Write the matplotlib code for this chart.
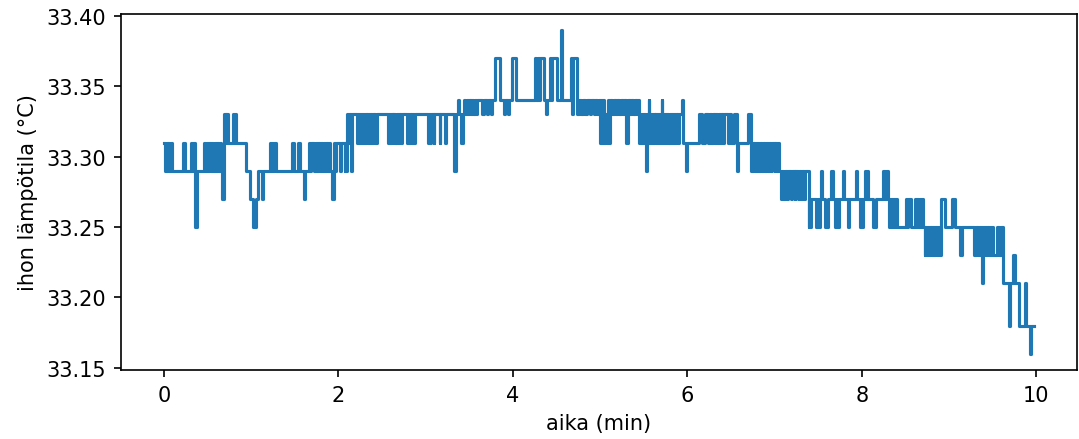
import matplotlib
matplotlib.use("Agg")
import matplotlib.pyplot as plt
import numpy as np

# Change points (time in minutes, skin temperature in °C)
aika_a = [0.00, 0.015, 0.03, 0.06, 0.075, 0.09,
          0.22, 0.235, 0.31, 0.325, 0.335, 0.35, 0.36, 0.375,
          0.46, 0.475, 0.49, 0.505, 0.52, 0.535, 0.55, 0.565, 0.58, 0.595, 0.61, 0.625, 0.64, 0.655,
          0.67, 0.685, 0.69, 0.705, 0.715, 0.73, 0.79, 0.80, 0.81, 0.825,
          0.94, 0.99, 1.02, 1.05, 1.08, 1.12, 1.14,
          1.21, 1.225, 1.24, 1.255, 1.265, 1.28, 1.47, 1.485, 1.54, 1.555, 1.60, 1.615,
          1.66, 1.675, 1.69, 1.72,
          1.74, 1.755, 1.77, 1.785, 1.80, 1.815, 1.83, 1.845, 1.86, 1.875, 1.89, 1.905,
          1.93, 1.945, 1.96, 1.97, 2.02, 2.03, 2.07, 2.08, 2.09]
lampo_a = [33.31, 33.29, 33.31, 33.29, 33.31, 33.29,
           33.31, 33.29, 33.31, 33.29, 33.31, 33.29, 33.25, 33.29,
           33.31, 33.29, 33.31, 33.29, 33.31, 33.29, 33.31, 33.29, 33.31, 33.29, 33.31, 33.29, 33.31, 33.29,
           33.27, 33.31, 33.33, 33.31, 33.33, 33.31, 33.33, 33.31, 33.33, 33.31,
           33.29, 33.27, 33.25, 33.27, 33.29, 33.27, 33.29,
           33.31, 33.29, 33.31, 33.29, 33.31, 33.29, 33.31, 33.29, 33.31, 33.29, 33.27, 33.29,
           33.31, 33.29, 33.31, 33.29,
           33.31, 33.29, 33.31, 33.29, 33.31, 33.29, 33.31, 33.29, 33.31, 33.29, 33.31, 33.29,
           33.27, 33.31, 33.29, 33.31, 33.29, 33.31, 33.29, 33.31, 33.29]

aika_b = [2.10, 2.115, 2.125, 2.14, 2.155,
          2.21, 2.22, 2.235, 2.245, 2.26, 2.27, 2.285, 2.295, 2.305, 2.315,
          2.34, 2.35, 2.365, 2.375, 2.39, 2.40, 2.415, 2.425, 2.435, 2.445,
          2.57, 2.58, 2.595, 2.605, 2.62, 2.63, 2.645, 2.655, 2.665, 2.675,
          2.685, 2.695, 2.715, 2.725,
          2.785, 2.795, 2.81, 2.82, 2.84, 2.85, 2.865, 2.875,
          3.025, 3.035, 3.05, 3.06, 3.09, 3.10, 3.16, 3.17, 3.22, 3.23]
lampo_b = [33.33, 33.31, 33.33, 33.29, 33.33,
           33.31, 33.33, 33.31, 33.33, 33.31, 33.33, 33.31, 33.33, 33.31, 33.33,
           33.31, 33.33, 33.31, 33.33, 33.31, 33.33, 33.31, 33.33, 33.31, 33.33,
           33.31, 33.33, 33.31, 33.33, 33.31, 33.33, 33.31, 33.33, 33.31, 33.33,
           33.31, 33.33, 33.31, 33.33,
           33.31, 33.33, 33.31, 33.33, 33.31, 33.33, 33.31, 33.33,
           33.31, 33.33, 33.31, 33.33, 33.31, 33.33, 33.31, 33.33, 33.31, 33.33]

aika_c = [3.33, 3.345, 3.365, 3.38, 3.41, 3.425,
          3.44, 3.455, 3.47, 3.485, 3.50, 3.515, 3.53, 3.545, 3.56, 3.575, 3.59,
          3.65, 3.665, 3.70, 3.715, 3.75, 3.765,
          3.79, 3.85, 3.90, 3.915, 3.94, 3.96, 3.985, 4.04,
          4.25, 4.265, 4.285, 4.30, 4.315, 4.36, 4.38, 4.395,
          4.42, 4.435, 4.445, 4.51, 4.55, 4.565,
          4.67, 4.68, 4.695, 4.74, 4.755,
          4.78, 4.80, 4.83, 4.845, 4.88, 4.895, 4.93, 4.945, 4.97, 4.985]
lampo_c = [33.29, 33.33, 33.34, 33.33, 33.31, 33.33,
           33.34, 33.33, 33.34, 33.33, 33.34, 33.33, 33.34, 33.33, 33.34, 33.33, 33.34,
           33.33, 33.34, 33.33, 33.34, 33.33, 33.34,
           33.37, 33.34, 33.33, 33.34, 33.33, 33.34, 33.37, 33.34,
           33.37, 33.34, 33.37, 33.34, 33.37, 33.34, 33.33, 33.34,
           33.37, 33.34, 33.37, 33.34, 33.39, 33.34,
           33.37, 33.33, 33.37, 33.33, 33.34,
           33.33, 33.34, 33.33, 33.34, 33.33, 33.34, 33.33, 33.34, 33.33, 33.34]

aika_d = [5.00, 5.01, 5.025, 5.035, 5.05, 5.06, 5.075, 5.085, 5.10, 5.11,
          5.14, 5.155, 5.18, 5.195, 5.22, 5.235, 5.26, 5.275, 5.30, 5.315, 5.34, 5.355, 5.38, 5.395, 5.42, 5.435,
          5.45, 5.46, 5.47, 5.48, 5.49, 5.50, 5.51, 5.525, 5.535, 5.545, 5.555, 5.565, 5.575, 5.585,
          5.595, 5.605, 5.615, 5.625, 5.635, 5.645, 5.655, 5.665, 5.675, 5.685, 5.695, 5.705, 5.715,
          5.725, 5.735, 5.745, 5.755, 5.765, 5.775, 5.785, 5.795, 5.805, 5.815, 5.825, 5.835, 5.845,
          5.855, 5.865, 5.89, 5.90,
          5.94, 5.955, 5.98, 5.995,
          6.13, 6.17, 6.20, 6.24, 6.255, 6.27,
          6.30, 6.315, 6.33, 6.345, 6.36, 6.375, 6.39, 6.405, 6.42,
          6.47, 6.48, 6.50, 6.54, 6.565, 6.58,
          6.70, 6.725, 6.735, 6.75]
lampo_d = [33.31, 33.34, 33.31, 33.34, 33.31, 33.33, 33.31, 33.34, 33.31, 33.34,
           33.33, 33.34, 33.33, 33.34, 33.33, 33.34, 33.33, 33.34, 33.31, 33.34, 33.33, 33.34, 33.33, 33.34, 33.33, 33.34,
           33.31, 33.33, 33.31, 33.33, 33.31, 33.33, 33.31, 33.29, 33.33, 33.31, 33.34, 33.31, 33.33, 33.31,
           33.33, 33.31, 33.33, 33.31, 33.33, 33.31, 33.33, 33.31, 33.33, 33.31, 33.33, 33.34, 33.31,
           33.33, 33.31, 33.33, 33.31, 33.33, 33.31, 33.33, 33.31, 33.33, 33.31, 33.33, 33.31, 33.33,
           33.31, 33.33, 33.31, 33.33,
           33.34, 33.31, 33.29, 33.31,
           33.33, 33.31, 33.33, 33.31, 33.33, 33.31,
           33.33, 33.31, 33.33, 33.31, 33.33, 33.31, 33.33, 33.31, 33.33,
           33.31, 33.33, 33.31, 33.33, 33.29, 33.31,
           33.33, 33.31, 33.29, 33.31]

aika_e = [6.76, 6.77, 6.78, 6.79, 6.80, 6.81, 6.82, 6.835,
          6.86, 6.87, 6.89, 6.90, 6.93, 6.94, 6.96, 6.97, 7.00, 7.01, 7.03, 7.04,
          7.05, 7.07, 7.085, 7.10, 7.115,
          7.14, 7.155, 7.19, 7.20, 7.23, 7.24, 7.27, 7.28, 7.30, 7.315, 7.34, 7.355,
          7.39, 7.40, 7.41, 7.42, 7.48, 7.495, 7.51, 7.52, 7.53, 7.54,
          7.58, 7.61, 7.65, 7.67, 7.69, 7.70, 7.72, 7.74,
          7.79, 7.80, 7.84, 7.85, 7.93, 7.94,
          7.98, 7.99, 8.00, 8.01, 8.04, 8.05, 8.06, 8.07, 8.13, 8.16]
lampo_e = [33.29, 33.31, 33.29, 33.31, 33.29, 33.31, 33.29, 33.31,
           33.29, 33.31, 33.29, 33.31, 33.29, 33.31, 33.29, 33.31, 33.29, 33.31, 33.29, 33.31,
           33.29, 33.27, 33.29, 33.27, 33.29,
           33.27, 33.29, 33.27, 33.29, 33.27, 33.29, 33.27, 33.29, 33.27, 33.29, 33.27, 33.29,
           33.25, 33.27, 33.25, 33.27, 33.25, 33.27, 33.25, 33.27, 33.29, 33.27,
           33.25, 33.27, 33.29, 33.27, 33.25, 33.27, 33.25, 33.27,
           33.29, 33.27, 33.25, 33.27, 33.29, 33.27,
           33.25, 33.27, 33.25, 33.27, 33.29, 33.27, 33.29, 33.27, 33.25, 33.27]

aika_f = [8.24, 8.265, 8.28, 8.30,
          8.31, 8.32, 8.335, 8.345, 8.36, 8.37, 8.385, 8.395, 8.41,
          8.505, 8.52, 8.535, 8.56,
          8.61, 8.62, 8.635, 8.65, 8.665, 8.68, 8.69, 8.70,
          8.72, 8.73, 8.745, 8.755, 8.77, 8.78, 8.80, 8.815, 8.83, 8.84, 8.86, 8.875, 8.89,
          8.905, 8.96, 9.04, 9.075, 9.13, 9.145, 9.29, 9.305,
          9.33, 9.34, 9.355, 9.365, 9.38, 9.39, 9.405, 9.415, 9.43, 9.44, 9.455, 9.465, 9.48, 9.49,
          9.50, 9.555, 9.57, 9.60, 9.615,
          9.69, 9.705, 9.74, 9.76, 9.80, 9.87, 9.885, 9.93, 9.945, 9.975]
lampo_f = [33.29, 33.27, 33.29, 33.27,
           33.25, 33.27, 33.25, 33.27, 33.25, 33.27, 33.25, 33.27, 33.25,
           33.27, 33.25, 33.27, 33.25,
           33.27, 33.25, 33.27, 33.25, 33.27, 33.25, 33.27, 33.25,
           33.23, 33.25, 33.23, 33.25, 33.23, 33.25, 33.23, 33.25, 33.23, 33.25, 33.23, 33.25, 33.23,
           33.27, 33.25, 33.27, 33.25, 33.23, 33.25, 33.23, 33.25,
           33.23, 33.25, 33.23, 33.25, 33.21, 33.25, 33.23, 33.25, 33.23, 33.25, 33.23, 33.25, 33.23, 33.25,
           33.23, 33.25, 33.23, 33.25, 33.21,
           33.18, 33.21, 33.23, 33.21, 33.18, 33.21, 33.18, 33.16, 33.18, 33.18]

aika = np.array(aika_a + aika_b + aika_c + aika_d + aika_e + aika_f)
lampo = np.array(lampo_a + lampo_b + lampo_c + lampo_d + lampo_e + lampo_f)

fig = plt.figure(figsize=(1079 / 150, 440 / 150), dpi=150)
ax = fig.add_subplot(111)
fig.subplots_adjust(left=0.1117, right=0.9986, top=0.9666, bottom=0.157)
ax.plot(aika, lampo, drawstyle="steps-post", color="#1f77b4", linewidth=1.5)
ax.set_xlabel("aika (min)")
ax.set_ylabel("ihon lämpötila (°C)")
ax.yaxis.set_major_formatter(matplotlib.ticker.FormatStrFormatter("%.2f"))
ax.set_yticks([33.15, 33.20, 33.25, 33.30, 33.35, 33.40])
fig.savefig("out.png", dpi=150)
